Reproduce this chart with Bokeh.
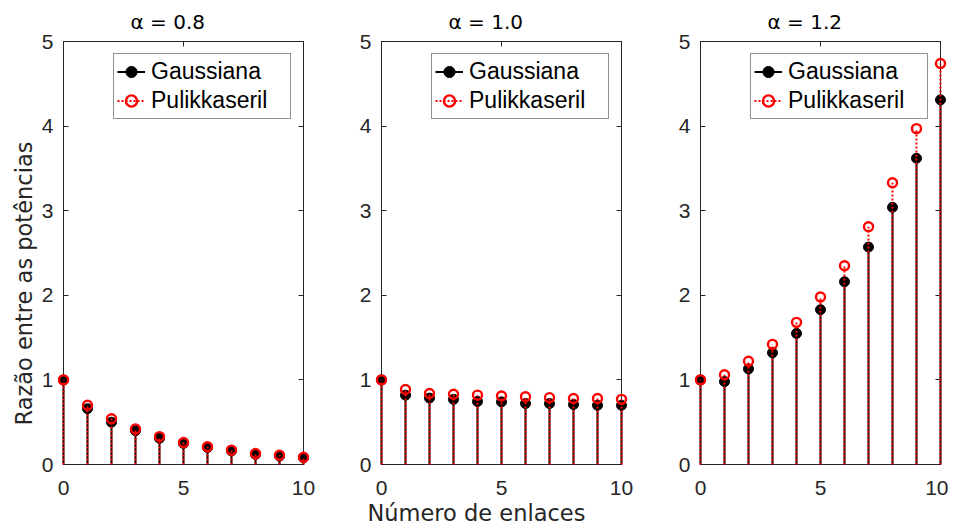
from bokeh.plotting import figure
from bokeh.layouts import row
from bokeh.models import (LinearAxis, FixedTicker, Legend, LegendItem, Title,
                          ColumnDataSource, Range1d)
from bokeh.embed import file_html
from bokeh.resources import INLINE

# ---------------- data ----------------
links = [0, 1, 2, 3, 4, 5, 6, 7, 8, 9, 10]
titles = ["α = 0.8", "α = 1.0", "α = 1.2"]
gauss_08 = [1.00, 0.66, 0.50, 0.40, 0.31, 0.25, 0.20, 0.16, 0.12, 0.10, 0.08]
pulik_08 = [1.00, 0.70, 0.54, 0.42, 0.33, 0.26, 0.21, 0.17, 0.13, 0.11, 0.086]
gauss_10 = [1.00, 0.82, 0.785, 0.77, 0.745, 0.74, 0.72, 0.72, 0.71, 0.70, 0.70]
pulik_10 = [1.00, 0.886, 0.84, 0.83, 0.82, 0.81, 0.80, 0.79, 0.78, 0.78, 0.77]
gauss_12 = [1.00, 0.98, 1.13, 1.32, 1.55, 1.83, 2.16, 2.57, 3.04, 3.62, 4.31]
pulik_12 = [1.00, 1.06, 1.22, 1.42, 1.68, 1.98, 2.35, 2.81, 3.33, 3.97, 4.74]
x_ticks = [0, 5, 10]
y_ticks = [0, 1, 2, 3, 4, 5]
series_names = ["Gaussiana", "Pulikkaseril"]
y_label = "Razão entre as potências"
x_label = "Número de enlaces"

gauss_all = [gauss_08, gauss_10, gauss_12]
pulik_all = [pulik_08, pulik_10, pulik_12]

AX = "#262626"
TICK_FONT = "Liberation Sans"
LABEL_FONT = "DejaVu Sans"
borders = [(63, 38), (40, 39), (40, 8)]

figs = []
for i in range(3):
    bl, br = borders[i]
    p = figure(frame_width=240, frame_height=423,
               x_range=Range1d(0, 10), y_range=Range1d(0, 5),
               output_backend="svg", toolbar_location=None,
               min_border_left=bl, min_border_right=br,
               min_border_top=41, min_border_bottom=60,
               background_fill_color="white", border_fill_color="white")
    p.xgrid.visible = False
    p.ygrid.visible = False
    p.outline_line_color = AX
    p.outline_line_width = 1

    for ax in p.xaxis:
        ax.ticker = FixedTicker(ticks=x_ticks)
    for ax in p.yaxis:
        ax.ticker = FixedTicker(ticks=y_ticks)
    for ax in list(p.xaxis) + list(p.yaxis):
        ax.major_tick_in = 5
        ax.major_tick_out = 0
        ax.minor_tick_line_color = None
        ax.axis_line_color = AX
        ax.major_tick_line_color = AX
        ax.major_label_text_font = TICK_FONT
        ax.major_label_text_font_size = "21px"
        ax.major_label_text_color = AX
    p.xaxis.major_label_standoff = 16
    p.yaxis.major_label_standoff = 10

    # mirror axes (box ticks)
    top = LinearAxis(ticker=FixedTicker(ticks=x_ticks), major_tick_in=5, major_tick_out=0,
                     minor_tick_line_color=None, major_label_text_font_size="0px",
                     major_label_standoff=0, axis_line_color=AX, major_tick_line_color=AX)
    right = LinearAxis(ticker=FixedTicker(ticks=y_ticks), major_tick_in=5, major_tick_out=0,
                       minor_tick_line_color=None, major_label_text_font_size="0px",
                       major_label_standoff=0, axis_line_color=AX, major_tick_line_color=AX)
    p.add_layout(top, "above")
    p.add_layout(right, "right")

    p.title = Title(text=titles[i], align="left", offset=67,
                    text_font="DejaVu Sans", text_font_size="20px",
                    text_font_style="normal", text_color="black", standoff=15)

    src = ColumnDataSource(dict(x=links, g=gauss_all[i], pk=pulik_all[i],
                                z=[0] * len(links)))
    g_line = p.segment(x0="x", y0="z", x1="x", y1="g", source=src,
                       line_color="black", line_width=2, level="overlay")
    g_mark = p.scatter(x="x", y="g", source=src, marker="circle", size=10,
                       fill_color="black", line_color="black", line_width=1,
                       level="overlay")
    p_line = p.segment(x0="x", y0="z", x1="x", y1="pk", source=src,
                       line_color="red", line_width=2, line_dash="2 2",
                       level="overlay")
    p_mark = p.scatter(x="x", y="pk", source=src, marker="circle", size=9,
                       fill_color=None, line_color="red", line_width=2.4,
                       level="overlay")

    legend = Legend(items=[LegendItem(label=series_names[0], renderers=[g_line, g_mark]),
                           LegendItem(label=series_names[1], renderers=[p_line, p_mark])],
                    location="top_right", margin=12, padding=3, spacing=0,
                    glyph_width=28, glyph_height=29, label_height=29,
                    label_width=136, label_standoff=6,
                    label_text_font="Liberation Sans", label_text_font_size="23px",
                    label_text_color="black",
                    border_line_color="#262626", border_line_width=1,
                    background_fill_color="white", background_fill_alpha=1.0)
    p.add_layout(legend, "center")
    figs.append(p)

figs[0].add_layout(Title(text=y_label, align="left", offset=39,
                         text_font=LABEL_FONT, text_font_size="22.5px",
                         text_font_style="normal", text_color=AX, standoff=4), "left")
figs[1].add_layout(Title(text=x_label, align="left", offset=-14,
                         text_font=LABEL_FONT, text_font_size="22.5px",
                         text_font_style="normal", text_color=AX, standoff=0), "below")

layout = row(*figs, spacing=0)
open("out.html", "w").write(file_html(layout, INLINE))
